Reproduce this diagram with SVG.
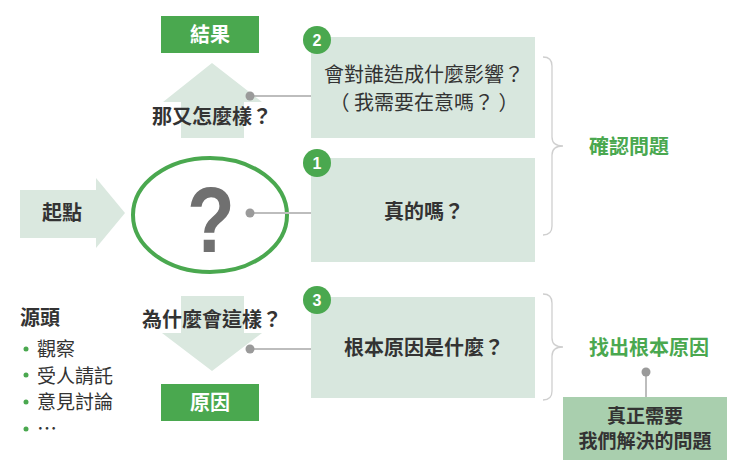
<svg xmlns="http://www.w3.org/2000/svg" width="740" height="466" viewBox="0 0 740 466">
<style>
.t{font-family:"Noto Sans CJK TC","Noto Sans CJK SC",sans-serif;fill:#333;font-size:20px}
.s{font-size:19px}
.b{font-weight:bold}
.c{text-anchor:middle}
.g{fill:#4aa84f}
.w{fill:#fff}
.pale{fill:#d8e7de}
.arrow{fill:#dae8df}
.box{fill:#4aa84f}
.line{stroke:#bdbdbd;stroke-width:2;fill:none}
.dot{fill:#9a9a9a}
.num{fill:#4aa84f}
.numt{font-family:"Liberation Sans",Arial,sans-serif;font-weight:bold;font-size:16px;fill:#fff;text-anchor:middle}
.brace{stroke:#cfcfcf;stroke-width:1.3;fill:none}
</style>
<rect width="740" height="466" fill="#fff"/>

<g id="result">
<rect class="box" x="161" y="16" width="98" height="37"/>
<text class="t b c w" x="210" y="42">結果</text>
</g>

<g id="up-arrow">
<polygon class="arrow" points="212,63 262,102 244,102 244,138 181,138 181,102 163,102"/>
<text class="t b c" x="212" y="124">那又怎麼樣？</text>
</g>

<g id="start">
<polygon class="arrow" points="20,190 96,190 96,178 125,213 96,248 96,238 20,238"/>
<text class="t b c" x="62" y="220">起點</text>
</g>

<g id="question">
<ellipse cx="210" cy="215" rx="77" ry="57" fill="#fff" stroke="#4aa84f" stroke-width="4"/>
<text x="211" y="252" font-family="Liberation Sans,Arial,sans-serif" font-weight="bold" font-size="92" fill="#707070" text-anchor="middle" transform="translate(211 0) scale(0.85 1) translate(-211 0)">?</text>
</g>

<g id="down-arrow">
<polygon class="arrow" points="181,296 244,296 244,333 262,333 212,371 162,333 181,333"/>
<text class="t b c" x="212" y="327">為什麼會這樣？</text>
</g>

<g id="cause">
<rect class="box" x="161" y="384" width="98" height="37"/>
<text class="t b c w" x="210" y="410">原因</text>
</g>

<g id="source">
<text class="t b" x="20" y="325">源頭</text>
<circle class="num" cx="26" cy="349" r="2.5"/>
<text class="t s" x="37" y="356">觀察</text>
<circle class="num" cx="26" cy="375" r="2.5"/>
<text class="t s" x="37" y="383">受人請託</text>
<circle class="num" cx="26" cy="402" r="2.5"/>
<text class="t s" x="37" y="409">意見討論</text>
<circle class="num" cx="26" cy="429" r="2.5"/>
<text class="t" x="37" y="436" font-size="16">…</text>
</g>

<g id="box2">
<rect class="pale" x="311" y="37" width="224" height="101"/>
<text class="t c" x="424" y="82">會對誰造成什麼影響？</text>
<text class="t c" x="424" y="110">（ 我需要在意嗎？ ）</text>
<circle class="num" cx="317" cy="40" r="14"/>
<text class="numt" x="317" y="46">2</text>
</g>

<g id="box1">
<rect class="pale" x="311" y="158" width="224" height="104"/>
<text class="t b c" x="424" y="219">真的嗎？</text>
<circle class="num" cx="317" cy="163" r="14"/>
<text class="numt" x="317" y="169">1</text>
</g>

<g id="box3">
<rect class="pale" x="311" y="297" width="224" height="101"/>
<text class="t b c" x="424" y="355">根本原因是什麼？</text>
<circle class="num" cx="317" cy="300" r="14"/>
<text class="numt" x="317" y="306">3</text>
</g>

<g id="confirm">
<text class="t b g" x="589" y="154">確認問題</text>
</g>

<g id="root">
<text class="t b g" x="589" y="355">找出根本原因</text>
</g>

<g id="real">
<rect x="563" y="397" width="164" height="63" fill="#a9cfae"/>
<text class="t s b c" x="645" y="423">真正需要</text>
<text class="t s b c" x="645" y="448">我們解決的問題</text>
</g>

<g id="connectors">
<line class="line" x1="250" y1="96" x2="311" y2="96"/>
<circle class="dot" cx="250" cy="96" r="4.5"/>
<line class="line" x1="250" y1="213" x2="311" y2="213"/>
<circle class="dot" cx="250" cy="213" r="4.5"/>
<line class="line" x1="250" y1="349" x2="311" y2="349"/>
<circle class="dot" cx="250" cy="349" r="4.5"/>
<line class="line" x1="646" y1="372" x2="646" y2="397"/>
<circle class="dot" cx="646" cy="372" r="4.5"/>
<path class="brace" d="M543,57 Q552,57 552,66 L552,137 Q552,146 563,146 Q552,146 552,155 L552,226 Q552,235 543,235"/>
<path class="brace" d="M543,294 Q552,294 552,303 L552,338 Q552,347 563,347 Q552,347 552,356 L552,391 Q552,400 543,400"/>
</g>
</svg>
